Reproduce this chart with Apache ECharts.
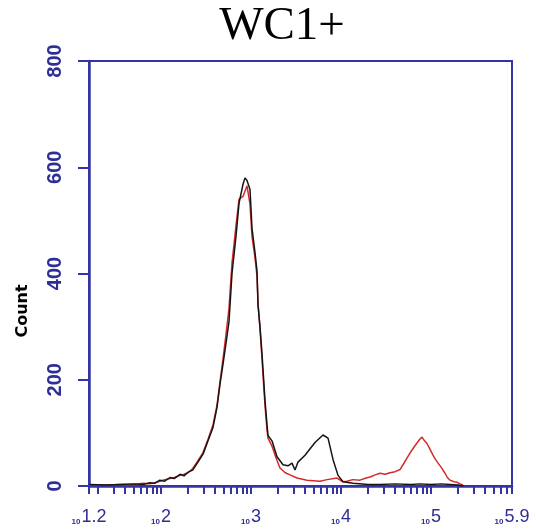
<!DOCTYPE html>
<html>
<head>
<meta charset="utf-8">
<script src="https://cdn.jsdelivr.net/npm/echarts@6/dist/echarts.min.js"></script>
<style>html,body{margin:0;padding:0;background:#fff}#c{width:536px;height:531px}</style>
</head>
<body>
<div id="c"></div>
<script>
// Fluorescence intensity (x) and event counts (y)
const blackX = [16, 25, 35, 50, 63, 75, 85, 97, 110, 126, 140, 163, 180, 200, 225, 251, 293, 333, 378, 419, 453, 489, 527, 570, 615, 681, 736, 815, 857, 903, 975, 1026, 1107, 1166, 1197, 1259, 1324, 1432, 1507, 1545, 1711, 1945, 2268, 2577, 2855, 3083, 3327, 3981, 5143, 6310, 7175, 8150, 9265, 10530, 13590, 20000, 27120, 40000, 60000, 75500, 100000, 130000, 162600, 200000, 230000];
const blackY = [3, 2, 3, 4, 3, 6, 5, 11, 9, 16, 14, 22, 19, 26, 30, 42, 60, 85, 110, 148, 192, 230, 268, 310, 400, 470, 532, 568, 580, 575, 558, 485, 440, 405, 340, 300, 250, 160, 115, 95, 85, 55, 40, 38, 43, 30, 45, 58, 82, 96, 90, 50, 20, 8, 5, 3, 3, 4, 3, 4, 3, 4, 3, 2, 0];
const redX = [16, 25, 35, 50, 63, 75, 85, 97, 110, 126, 140, 163, 180, 200, 225, 251, 293, 333, 378, 419, 453, 489, 527, 570, 615, 681, 736, 815, 857, 903, 975, 1026, 1107, 1166, 1197, 1259, 1324, 1432, 1507, 1545, 1711, 1945, 2100, 2400, 2710, 3243, 4190, 5843, 7000, 9030, 10500, 11660, 13500, 16250, 19000, 21000, 24000, 27120, 31000, 35000, 40000, 45250, 48850, 53000, 58400, 64000, 69850, 75000, 79430, 84000, 90300, 97000, 105300, 112000, 119700, 130000, 143200, 152000, 162600, 180000, 194500, 210000, 226800];
const redY = [2, 2, 3, 3, 5, 4, 6, 9, 12, 14, 16, 20, 22, 25, 33, 45, 63, 88, 115, 152, 197, 240, 285, 335, 420, 490, 540, 545, 555, 565, 530, 470, 430, 395, 345, 295, 240, 150, 105, 90, 75, 48, 34, 25, 21, 15, 11, 9, 12, 15, 8, 9, 12, 11, 15, 17, 21, 24, 22, 25, 27, 31, 40, 50, 62, 72, 81, 88, 92, 86, 80, 70, 58, 50, 43, 35, 24, 16, 11, 8, 7, 4, 2];

// Axis tick labels (decade exponents) and minor tick layout
const xLabelExps = [1.2, 2, 3, 4, 5, 5.9];
const xLabelTexts = ['1.2', '2', '3', '4', '5', '5.9'];
const minorMultipliers = [1, 2, 3, 4, 5, 6, 7, 8, 9];
const decades = [10, 100, 1000, 10000, 100000];
const yTicks = [0, 200, 400, 600, 800];

const xMin = Math.pow(10, xLabelExps[0]);
const xMax = Math.pow(10, xLabelExps[xLabelExps.length - 1]);
const clampIn = v => Math.min(Math.max(v, xMin * 1.0005), xMax * 0.9995);
const labelValues = xLabelExps.map(e => clampIn(Math.pow(10, e)));
const tickValues = [];
decades.forEach(d => minorMultipliers.forEach(m => { const v = d * m; if (v > xMin && v < xMax) tickValues.push(v); }));
tickValues.push(clampIn(xMin), clampIn(xMax));
tickValues.sort((a, b) => a - b);

const blue = '#3434a6';
const labelBlue = '#2e2e96';

const chart = echarts.init(document.getElementById('c'));
chart.setOption({
  animation: false,
  backgroundColor: '#fff',
  graphic: [{
    type: 'text', x: 282, y: 27,
    style: { text: 'WC1+', fontFamily: 'Liberation Serif', fontSize: 47, fill: '#000', textAlign: 'center', textVerticalAlign: 'middle' }
  }, {
    type: 'text', x: 23, y: 311, rotation: Math.PI / 2,
    style: { text: 'Count', fontFamily: 'DejaVu Sans', fontWeight: 'bold', fontSize: 16, fill: '#000', textAlign: 'center', textVerticalAlign: 'middle' }
  }],
  grid: { left: 89, right: 24, top: 61, bottom: 45, show: true, borderColor: blue, borderWidth: 2, backgroundColor: 'transparent' },
  xAxis: {
    type: 'log', logBase: 10, min: xMin, max: xMax,
    axisLine: { show: true, lineStyle: { color: blue, width: 2.5 } },
    axisTick: { show: true, customValues: tickValues, length: 8, lineStyle: { color: blue, width: 2 } },
    axisLabel: {
      customValues: labelValues, margin: 20, showMaxLabel: true, showMinLabel: true, hideOverlap: false,
      formatter: function (v) {
        let idx = 0, best = Infinity;
        labelValues.forEach((lv, i) => { const d = Math.abs(Math.log10(lv) - Math.log10(v)); if (d < best) { best = d; idx = i; } });
        return '{s|10}{b|' + xLabelTexts[idx] + '}';
      },
      rich: {
        s: { fontSize: 8, fontWeight: 'bold', fontFamily: 'Liberation Sans', color: labelBlue, verticalAlign: 'bottom', lineHeight: 11, padding: [0, 1, 0, 0] },
        b: { fontSize: 18, fontFamily: 'Liberation Sans', color: labelBlue, verticalAlign: 'bottom', lineHeight: 20 }
      }
    },
    splitLine: { show: false }, minorTick: { show: false }
  },
  yAxis: {
    type: 'value', min: yTicks[0], max: yTicks[yTicks.length - 1], interval: 200,
    axisLine: { show: true, lineStyle: { color: blue, width: 2.5 } },
    axisTick: { show: true, length: 11, lineStyle: { color: blue, width: 2 } },
    axisLabel: { rotate: 90, margin: 24, fontSize: 20, fontWeight: 'bold', fontFamily: 'Liberation Sans', color: labelBlue },
    splitLine: { show: false }
  },
  series: [
    { name: 'red', type: 'line', showSymbol: false, z: 2, data: redX.map((x, i) => [x, redY[i]]), lineStyle: { color: '#d42a2a', width: 1.5 } },
    { name: 'black', type: 'line', showSymbol: false, z: 3, data: blackX.map((x, i) => [x, blackY[i]]), lineStyle: { color: '#151515', width: 1.5 } }
  ]
});
</script>
</body>
</html>
